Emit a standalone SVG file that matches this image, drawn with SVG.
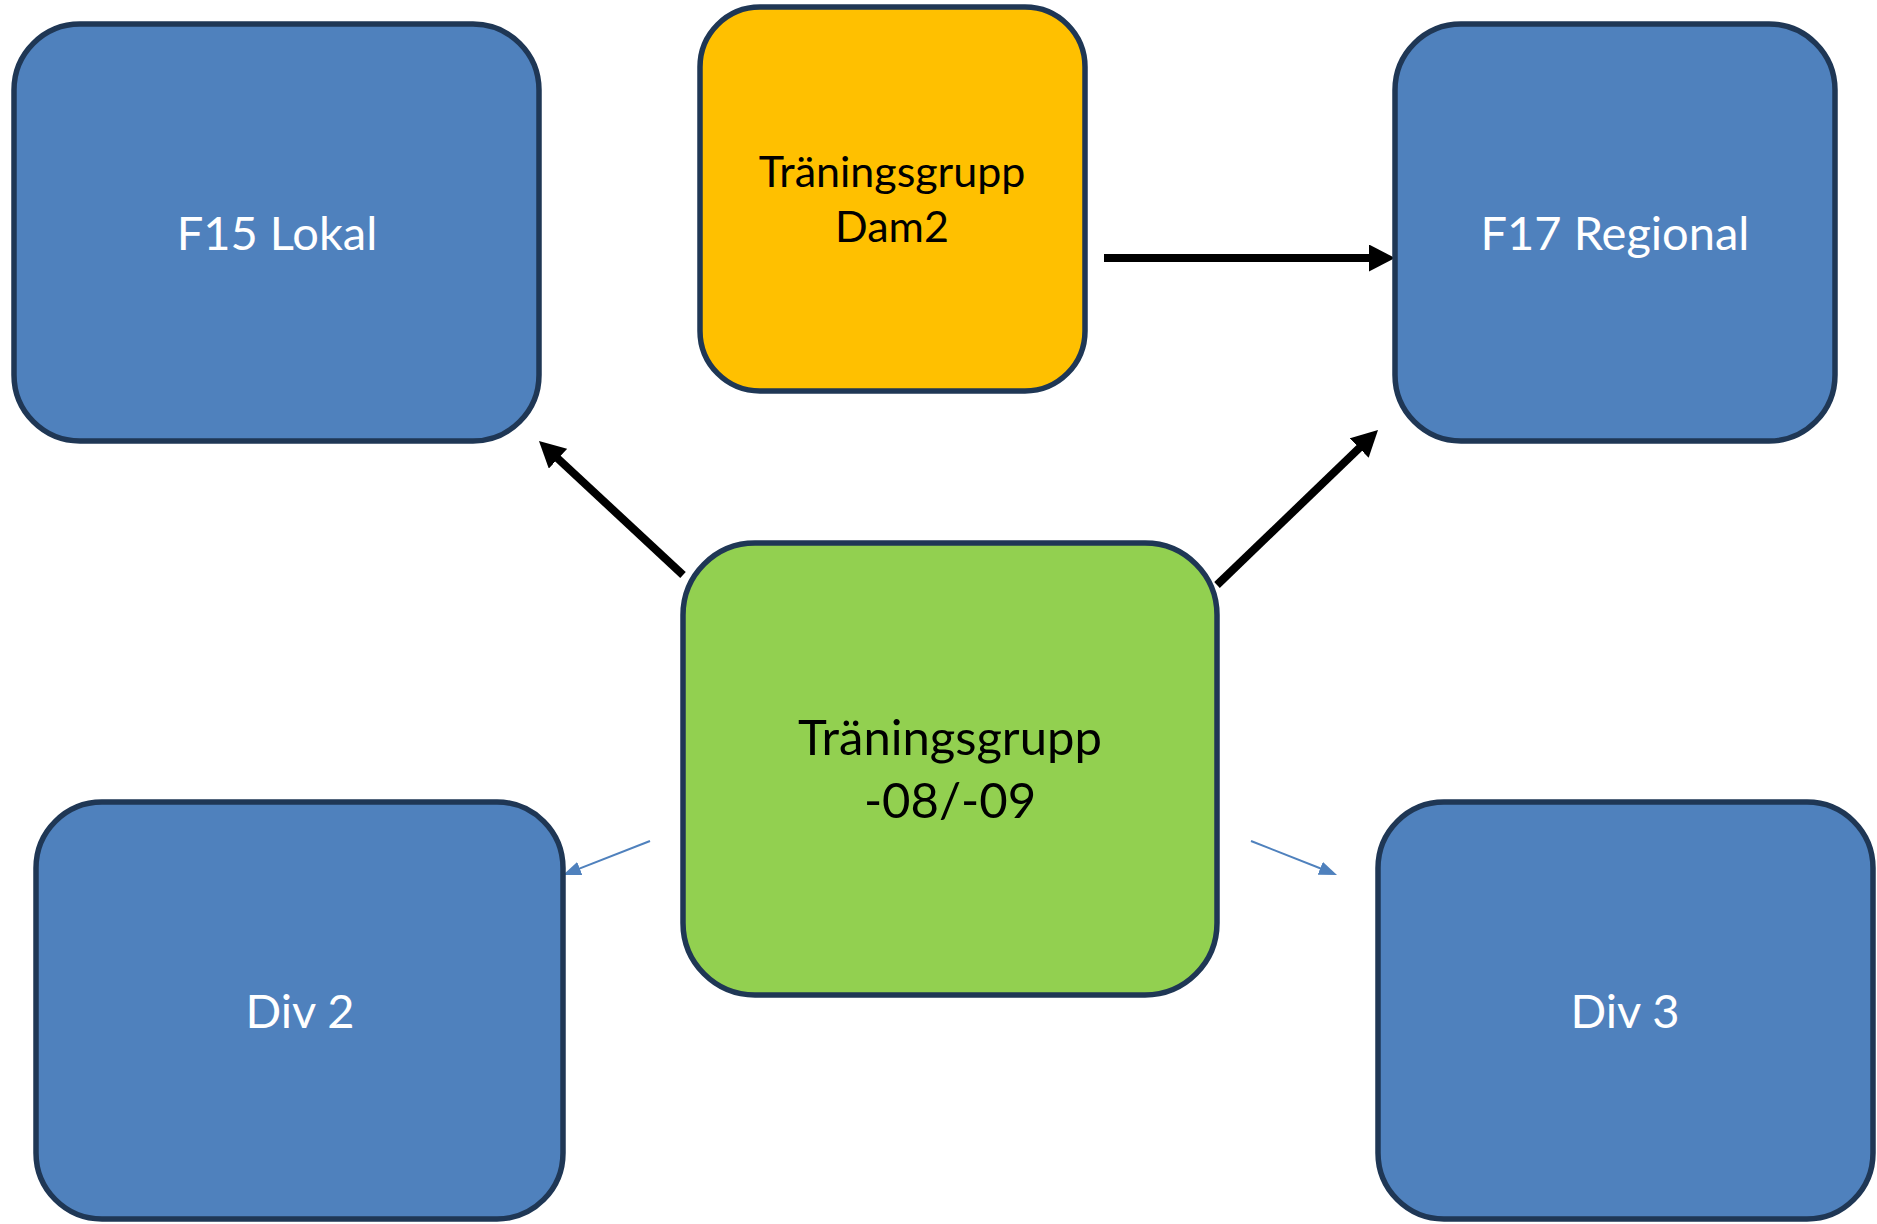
<svg xmlns="http://www.w3.org/2000/svg" width="1877" height="1224" viewBox="0 0 1877 1224">
<style>
.box{stroke:#1F3755;stroke-width:5.5}
.blue{fill:#4F81BD}
.orange{fill:#FFC000}
.green{fill:#92D050}
.lbl{font-family:Lato,"Open Sans","Liberation Sans",sans-serif;text-anchor:middle}
.w{fill:#FFFFFF;font-size:47px}
.k{fill:#000000}
.thick{stroke:#000000;stroke-width:8;fill:none}
.thin{stroke:#4F81BD;stroke-width:2;fill:none}
</style>
<defs>
<marker id="ahThick" markerUnits="userSpaceOnUse" viewBox="0 0 26 27" markerWidth="26" markerHeight="27" refX="6" refY="13.5" orient="auto">
<path d="M0,0 L26,13.5 L0,27 Z" fill="#000000"/>
</marker>
<marker id="ahThin" markerUnits="userSpaceOnUse" viewBox="0 0 18 14" markerWidth="18" markerHeight="14" refX="8" refY="7" orient="auto">
<path d="M0,0 L18,7 L0,14 Z" fill="#4F81BD"/>
</marker>
</defs>
<rect width="1877" height="1224" fill="#FFFFFF"/>
<g id="connectors">
<line class="thick" x1="1104" y1="258" x2="1375" y2="258" marker-end="url(#ahThick)"/>
<line class="thick" x1="683" y1="575" x2="553.6" y2="454.6" marker-end="url(#ahThick)"/>
<line class="thick" x1="1217" y1="585" x2="1363.6" y2="443.9" marker-end="url(#ahThick)"/>
<line class="thin" x1="650" y1="841" x2="572.3" y2="871.4" marker-end="url(#ahThin)"/>
<line class="thin" x1="1251" y1="841" x2="1327.7" y2="871.3" marker-end="url(#ahThin)"/>
</g>
<g id="f15">
<rect class="box blue" x="14" y="24" width="525" height="417" rx="66" ry="66"/>
<text class="lbl w" x="277" y="250">F15 Lokal</text>
</g>
<g id="dam2">
<rect class="box orange" x="700" y="7" width="385" height="384" rx="60" ry="60"/>
<text class="lbl k" x="892" y="187" font-size="43">Träningsgrupp</text>
<text class="lbl k" x="892" y="242" font-size="43">Dam2</text>
</g>
<g id="f17">
<rect class="box blue" x="1395" y="24" width="440" height="417" rx="66" ry="66"/>
<text class="lbl w" x="1615" y="250">F17 Regional</text>
</g>
<g id="grupp0809">
<rect class="box green" x="683" y="543" width="534" height="452" rx="72" ry="72"/>
<text class="lbl k" x="950" y="755" font-size="49">Träningsgrupp</text>
<text class="lbl k" x="950" y="818" font-size="49">-08/-09</text>
</g>
<g id="div2">
<rect class="box blue" x="36" y="802" width="527" height="417" rx="66" ry="66"/>
<text class="lbl w" x="300" y="1028">Div 2</text>
</g>
<g id="div3">
<rect class="box blue" x="1378" y="802" width="495" height="417" rx="66" ry="66"/>
<text class="lbl w" x="1625" y="1028">Div 3</text>
</g>
</svg>
